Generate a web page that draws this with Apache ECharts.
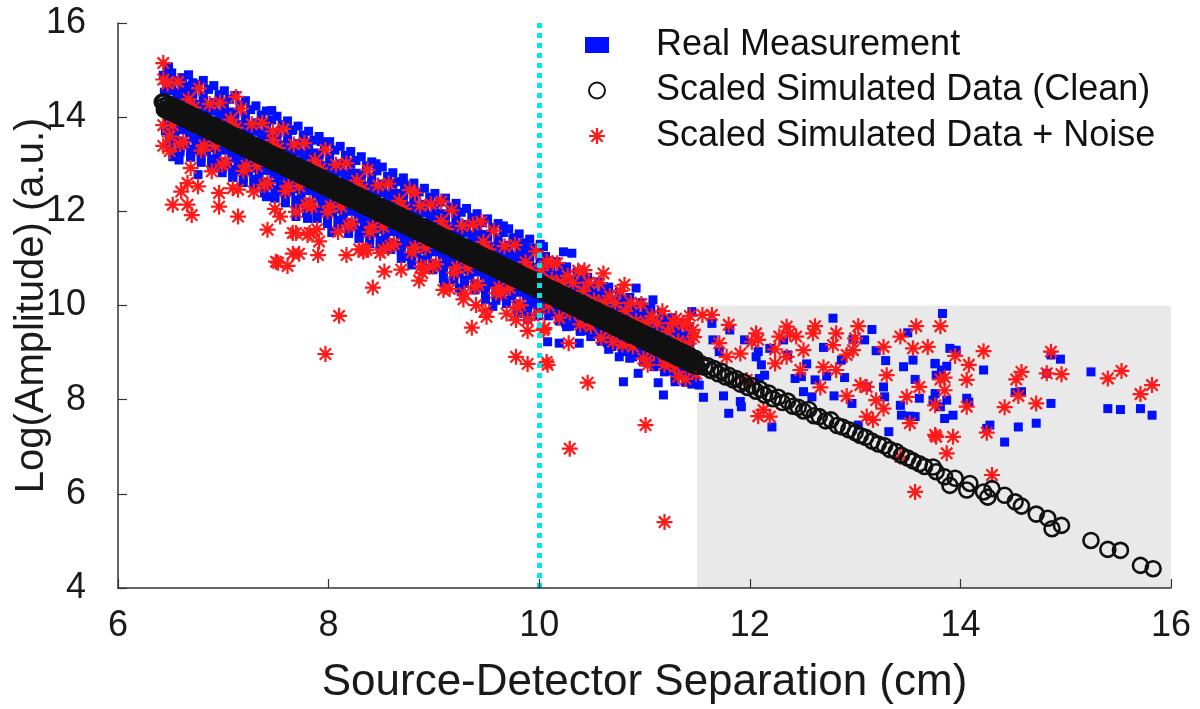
<!DOCTYPE html>
<html><head><meta charset="utf-8">
<script src="https://cdn.jsdelivr.net/npm/echarts@6/dist/echarts.min.js"></script>
<style>html,body{margin:0;padding:0;background:#fff}#c{width:1200px;height:709px}</style>
</head><body><div id="c"></div>
<script>
const xTicks = [6, 8, 10, 12, 14, 16];
const yTicks = [4, 6, 8, 10, 12, 14, 16];
const seriesNames = ['Real Measurement', 'Scaled Simulated Data (Clean)', 'Scaled Simulated Data + Noise'];

// Real Measurement (dense band)
const blueBand = [
[6.43,14.89],[6.46,14.68],[6.44,14.53],[6.48,13.91],[6.45,13.71],[6.49,13.49],
[6.51,14.71],[6.56,14.53],[6.53,14.35],[6.58,13.85],[6.54,13.67],[6.59,13.49],
[6.61,14.74],[6.66,14.54],[6.63,14.36],[6.68,13.66],[6.64,13.44],[6.69,13.16],
[6.71,14.45],[6.76,14.27],[6.73,14.19],[6.78,13.67],[6.74,13.49],[6.79,13.31],
[6.81,14.46],[6.86,14.25],[6.83,14.10],[6.88,13.48],[6.84,13.28],[6.89,13.06],
[6.91,14.27],[6.96,14.09],[6.93,13.91],[6.98,13.41],[6.94,13.23],[6.99,13.05],
[7.01,14.31],[7.06,14.11],[7.03,13.93],[7.08,13.23],[7.04,13.01],[7.09,12.73],
[7.11,14.02],[7.16,13.84],[7.13,13.76],[7.18,13.24],[7.14,13.06],[7.19,12.88],
[7.21,14.03],[7.26,13.82],[7.23,13.67],[7.28,13.05],[7.24,12.85],[7.29,12.63],
[7.31,13.84],[7.36,13.66],[7.33,13.48],[7.38,12.98],[7.34,12.80],[7.39,12.62],
[7.41,13.87],[7.46,13.67],[7.43,13.49],[7.48,12.79],[7.44,12.57],[7.49,12.29],
[7.51,13.59],[7.56,13.41],[7.53,13.33],[7.58,12.81],[7.54,12.63],[7.59,12.45],
[7.61,13.60],[7.66,13.39],[7.63,13.24],[7.68,12.62],[7.64,12.42],[7.69,12.20],
[7.71,13.41],[7.76,13.23],[7.73,13.05],[7.78,12.55],[7.74,12.37],[7.79,12.19],
[7.81,13.44],[7.86,13.24],[7.83,13.06],[7.88,12.36],[7.84,12.14],[7.89,11.86],
[7.91,13.15],[7.96,12.97],[7.93,12.89],[7.98,12.37],[7.94,12.19],[7.99,12.01],
[8.01,13.17],[8.06,12.96],[8.03,12.81],[8.08,12.19],[8.04,11.99],[8.09,11.77],
[8.11,12.98],[8.16,12.80],[8.13,12.62],[8.18,12.12],[8.14,11.94],[8.19,11.76],
[8.21,13.01],[8.26,12.81],[8.23,12.63],[8.28,11.93],[8.24,11.71],[8.29,11.43],
[8.31,12.72],[8.36,12.54],[8.33,12.46],[8.38,11.94],[8.34,11.76],[8.39,11.58],
[8.41,12.73],[8.46,12.52],[8.43,12.37],[8.48,11.75],[8.44,11.55],[8.49,11.33],
[8.51,12.55],[8.56,12.37],[8.53,12.19],[8.58,11.69],[8.54,11.51],[8.59,11.33],
[8.61,12.58],[8.66,12.38],[8.63,12.20],[8.68,11.50],[8.64,11.28],[8.69,11.00],
[8.71,12.29],[8.76,12.11],[8.73,12.03],[8.78,11.51],[8.74,11.33],[8.79,11.15],
[8.81,12.30],[8.86,12.09],[8.83,11.94],[8.88,11.32],[8.84,11.12],[8.89,10.90],
[8.91,12.11],[8.96,11.93],[8.93,11.75],[8.98,11.25],[8.94,11.07],[8.99,10.89],
[9.01,12.15],[9.06,11.95],[9.03,11.77],[9.08,11.07],[9.04,10.85],[9.09,10.57],
[9.11,11.86],[9.16,11.68],[9.13,11.60],[9.18,11.08],[9.14,10.90],[9.19,10.72],
[9.21,11.87],[9.26,11.66],[9.23,11.51],[9.28,10.89],[9.24,10.69],[9.29,10.47],
[9.31,11.68],[9.36,11.50],[9.33,11.32],[9.38,10.82],[9.34,10.64],[9.39,10.46],
[9.41,11.71],[9.46,11.51],[9.43,11.33],[9.48,10.63],[9.44,10.41],[9.49,10.13],
[9.51,11.43],[9.56,11.25],[9.53,11.17],[9.58,10.65],[9.54,10.47],[9.59,10.29],
[9.61,11.44],[9.66,11.23],[9.63,11.08],[9.68,10.46],[9.64,10.26],[9.69,10.04],
[9.71,11.25],[9.76,11.07],[9.73,10.89],[9.78,10.39],[9.74,10.21],[9.79,10.03],
[9.81,11.28],[9.86,11.08],[9.83,10.90],[9.88,10.20],[9.84,9.98],[9.89,9.70],
[9.91,10.99],[9.96,10.81],[9.93,10.73],[9.98,10.21],[9.94,10.03],[9.99,9.85],
[10.01,10.99],[10.06,10.83],[10.03,10.69],[10.08,10.05],[10.05,9.91],
[10.11,10.80],[10.16,10.64],[10.13,10.54],[10.18,9.96],[10.15,9.86],
[10.21,10.83],[10.26,10.65],[10.23,10.49],[10.28,9.79],[10.25,9.63],
[10.31,10.54],[10.36,10.46],[10.33,10.30],[10.38,9.76],[10.35,9.62],
[10.41,10.55],[10.46,10.39],[10.43,10.25],[10.48,9.61],[10.45,9.47],
[10.51,10.37],[10.56,10.21],[10.53,10.11],[10.58,9.53],[10.55,9.43],
[10.61,10.40],[10.66,10.22],[10.63,10.06],[10.68,9.36],[10.65,9.20],
[10.71,10.11],[10.76,10.03],[10.73,9.87],[10.78,9.33],[10.75,9.19],
[10.81,10.12],[10.86,9.96],[10.83,9.82],[10.88,9.18],[10.85,9.04],
[10.91,9.93],[10.96,9.77],[10.93,9.67],[10.98,9.09],[10.95,8.99],
[11.01,9.97],[11.06,9.79],[11.03,9.63],[11.08,8.93],[11.05,8.77],
[11.11,9.68],[11.16,9.60],[11.13,9.44],[11.18,8.90],[11.15,8.76],
[11.21,9.69],[11.26,9.53],[11.23,9.39],[11.28,8.75],[11.25,8.61],
[11.31,9.50],[11.36,9.34],[11.33,9.24],[11.38,8.66],[11.35,8.56],
[11.41,9.53],[11.46,9.35],[11.43,9.19],[11.48,8.49],[11.45,8.33]
];
const blueBand2 = [
[6.51,14.74],[6.48,14.56],[6.52,13.78],[6.49,13.54],[6.61,14.55],[6.58,14.37],[6.62,13.73],[6.59,13.35],
[6.71,14.52],[6.68,14.34],[6.72,13.56],[6.69,13.32],[6.81,14.34],[6.78,14.16],[6.82,13.52],[6.79,13.14],
[6.91,14.31],[6.88,14.13],[6.92,13.35],[6.89,13.11],[7.01,14.12],[6.98,13.94],[7.02,13.30],[6.99,12.92],
[7.11,14.09],[7.08,13.91],[7.12,13.13],[7.09,12.89],[7.21,13.90],[7.18,13.72],[7.22,13.08],[7.19,12.70],
[7.31,13.88],[7.28,13.70],[7.32,12.92],[7.29,12.68],[7.41,13.69],[7.38,13.51],[7.42,12.87],[7.39,12.49],
[7.51,13.66],[7.48,13.48],[7.52,12.70],[7.49,12.46],[7.61,13.47],[7.58,13.29],[7.62,12.65],[7.59,12.27],
[7.71,13.44],[7.68,13.26],[7.72,12.48],[7.69,12.24],[7.81,13.26],[7.78,13.08],[7.82,12.44],[7.79,12.06],
[7.91,13.23],[7.88,13.05],[7.92,12.27],[7.89,12.03],[8.01,13.04],[7.98,12.86],[8.02,12.22],[7.99,11.84],
[8.11,13.01],[8.08,12.83],[8.12,12.05],[8.09,11.81],[8.21,12.82],[8.18,12.64],[8.22,12.00],[8.19,11.62],
[8.31,12.80],[8.28,12.62],[8.32,11.84],[8.29,11.60],[8.41,12.61],[8.38,12.43],[8.42,11.79],[8.39,11.41],
[8.51,12.58],[8.48,12.40],[8.52,11.62],[8.49,11.38],[8.61,12.39],[8.58,12.21],[8.62,11.57],[8.59,11.19],
[8.71,12.36],[8.68,12.18],[8.72,11.40],[8.69,11.16],[8.81,12.18],[8.78,12.00],[8.82,11.36],[8.79,10.98],
[8.91,12.15],[8.88,11.97],[8.92,11.19],[8.89,10.95],[9.01,11.96],[8.98,11.78],[9.02,11.14],[8.99,10.76],
[9.11,11.93],[9.08,11.75],[9.12,10.97],[9.09,10.73],[9.21,11.74],[9.18,11.56],[9.22,10.92],[9.19,10.54],
[9.31,11.72],[9.28,11.54],[9.32,10.76],[9.29,10.52],[9.41,11.53],[9.38,11.35],[9.42,10.71],[9.39,10.33],
[9.51,11.50],[9.48,11.32],[9.52,10.54],[9.49,10.30],[9.61,11.31],[9.58,11.13],[9.62,10.49],[9.59,10.11],
[9.71,11.28],[9.68,11.10],[9.72,10.32],[9.69,10.08],[9.81,11.10],[9.78,10.92],[9.82,10.28],[9.79,9.90],
[9.91,11.07],[9.88,10.89],[9.92,10.11],[9.89,9.87],[10.01,10.94],[9.98,10.78],[10.02,10.04],[9.99,9.92],
[10.11,10.73],[10.08,10.59],[10.12,9.99],[10.09,9.87],[10.21,10.72],[10.18,10.56],[10.22,9.82],[10.19,9.70],
[10.31,10.52],[10.28,10.38],[10.32,9.78],[10.29,9.66],[10.41,10.51],[10.38,10.35],[10.42,9.61],[10.39,9.49],
[10.51,10.30],[10.48,10.16],[10.52,9.56],[10.49,9.44],[10.61,10.29],[10.58,10.13],[10.62,9.39],[10.59,9.27],
[10.71,10.08],[10.68,9.94],[10.72,9.34],[10.69,9.22],[10.81,10.08],[10.78,9.92],[10.82,9.18],[10.79,9.06],
[10.91,9.87],[10.88,9.73],[10.92,9.13],[10.89,9.01],[11.01,9.86],[10.98,9.70],[11.02,8.96],[10.99,8.84],
[11.11,9.65],[11.08,9.51],[11.12,8.91],[11.09,8.79],[11.21,9.64],[11.18,9.48],[11.22,8.74],[11.19,8.62],
[11.31,9.44],[11.28,9.30],[11.32,8.70],[11.29,8.58],[11.41,9.43],[11.38,9.27],[11.42,8.53],[11.39,8.41]
];
const blueEdge = [
[6.46,14.87],[6.51,14.94],[6.49,13.36],[6.53,13.52],[6.56,14.77],[6.61,14.84],[6.59,13.26],
[6.66,14.66],[6.71,14.73],[6.69,13.15],[6.73,13.31],[6.76,14.70],[6.81,14.78],[6.79,13.04],
[6.86,14.59],[6.91,14.67],[6.89,12.93],[6.93,13.09],[6.96,14.48],[7.01,14.56],[6.99,12.82],
[7.06,14.38],[7.11,14.46],[7.09,12.72],[7.13,12.88],[7.16,14.27],[7.21,14.35],[7.19,12.61],
[7.26,14.16],[7.31,14.24],[7.29,12.50],[7.33,12.66],[7.36,14.05],[7.41,14.13],[7.39,12.39],
[7.46,13.94],[7.51,14.02],[7.49,12.28],[7.53,12.44],[7.56,13.84],[7.61,13.92],[7.59,12.18],
[7.66,13.73],[7.71,13.81],[7.69,12.07],[7.73,12.23],[7.76,13.62],[7.81,13.70],[7.79,11.96],
[7.86,13.51],[7.91,13.59],[7.89,11.85],[7.93,12.01],[7.96,13.40],[8.01,13.48],[7.99,11.74],
[8.06,13.30],[8.11,13.38],[8.09,11.64],[8.13,11.80],[8.16,13.19],[8.21,13.27],[8.19,11.53],
[8.26,13.08],[8.31,13.16],[8.29,11.42],[8.33,11.58],[8.36,12.97],[8.41,13.05],[8.39,11.31],
[8.46,12.86],[8.51,12.94],[8.49,11.20],[8.53,11.36],
[8.56,12.74],[8.61,12.82],[8.59,11.30],[8.66,12.63],[8.71,12.71],[8.69,11.19],
[8.76,12.52],[8.81,12.60],[8.79,11.08],[8.86,12.41],[8.91,12.49],[8.89,10.97],
[8.96,12.30],[9.01,12.38],[8.99,10.86],[9.06,12.20],[9.11,12.28],[9.09,10.76],
[9.16,12.09],[9.21,12.17],[9.19,10.65],[9.26,11.98],[9.31,12.06],[9.29,10.54],
[9.36,11.87],[9.41,11.95],[9.39,10.43],[9.46,11.76],[9.51,11.84],[9.49,10.32],
[9.56,11.66],[9.61,11.74],[9.59,10.22],[9.66,11.55],[9.71,11.63],[9.69,10.11],
[9.76,11.44],[9.81,11.52],[9.79,10.00],[9.86,11.33],[9.91,11.41],[9.89,9.89],
[9.96,11.22],[10.01,11.30],[9.99,9.78],
[10.06,11.04],[10.09,9.78],[10.16,10.93],[10.19,9.67],[10.26,10.82],[10.29,9.56],
[10.36,10.71],[10.39,9.45],[10.46,10.60],[10.49,9.34],[10.56,10.50],[10.59,9.24],
[10.66,10.39],[10.69,9.13],[10.76,10.28],[10.79,9.02],[10.86,10.17],[10.89,8.91],
[10.96,10.06],[10.99,8.80],[11.06,9.96],[11.09,8.70],[11.16,9.85],[11.19,8.59],
[11.26,9.74],[11.29,8.48],[11.36,9.63],[11.39,8.37]
];
const blueOutliers = [
[6.48,15.07],[6.67,14.90],[6.96,14.34],[7.46,14.14],[7.65,13.72],[7.93,13.48],[7.69,11.89],[7.80,11.85],
[8.03,11.55],[7.41,12.31],[6.58,13.09],[6.52,13.16],[6.76,12.78],[6.93,12.92],[7.09,12.88],[8.45,13.01],
[8.72,12.56],[9.21,12.00],[9.66,11.69],[9.75,11.43],[9.88,11.22],[9.56,9.98],[9.80,9.83],[10.08,9.23],
[8.71,11.04],[8.79,10.86],[9.24,10.37],[9.10,10.47],[9.26,10.29],[8.55,11.25],[10.04,11.25],[10.23,11.14],
[10.31,11.11],[11.45,9.87],[10.92,10.37],[11.08,10.12],[11.18,8.10],[11.13,8.36],[11.29,8.38],[11.46,8.38],
[10.80,8.38],[10.94,8.56],[10.76,8.91],[10.86,8.88],[10.66,9.07],[10.38,9.20],[10.19,9.20],[10.26,9.55]
];
const blueFar = [
[12.79,9.73],[13.16,9.49],[13.50,9.42],[11.81,9.48],[12.32,9.27],[12.54,8.76],[12.70,9.11],[12.87,8.84],
[12.98,9.28],[13.09,9.27],[13.20,9.04],[13.29,8.83],[13.46,8.70],[13.55,8.84],[13.57,8.43],[13.76,8.76],
[13.77,8.52],[11.71,9.02],[11.95,9.27],[12.08,9.02],[12.11,8.74],[12.14,8.52],[12.19,9.09],[12.36,8.95],
[12.43,8.45],[12.49,8.49],[12.51,8.17],[12.59,8.06],[12.62,8.42],[12.73,8.50],[12.80,8.08],[12.90,8.47],
[12.97,7.92],[13.11,8.27],[13.27,8.27],[13.28,8.06],[13.32,7.32],[13.43,7.88],[13.44,7.67],[13.52,7.65],
[13.57,7.64],[13.61,8.03],[13.74,7.99],[13.03,7.46],[11.56,8.05],[11.75,8.08],[11.80,7.71],[11.91,7.96],
[11.92,7.85],[12.21,7.42],[12.09,8.45],[12.06,8.91],[11.65,9.27],[11.64,9.62],[11.52,8.31],
[13.83,9.83],[13.90,9.09],[13.96,9.05],[13.76,8.77],[13.82,8.63],[13.87,8.71],[13.76,8.13],[13.81,7.85],
[13.85,7.60],[13.93,7.67],[13.87,7.99],[14.06,8.03],[14.08,7.95],[14.22,8.63],[14.28,7.46],[14.25,7.39],
[14.42,7.10],[14.52,8.15],[14.58,8.17],[14.55,7.42],[14.72,7.50],[14.86,7.92],[14.86,8.95],[14.95,8.86],
[14.82,8.56],[15.24,8.59],[15.40,7.81],[15.52,7.79],[15.71,7.81],[15.82,7.67]
];

// Scaled Simulated Data (Clean)
const cleanBand = [
[6.42,14.32],[6.46,14.16],[6.50,14.19],[6.54,14.11],[6.58,14.16],[6.62,14.00],[6.66,14.04],[6.70,13.89],
[6.74,13.97],[6.78,13.82],[6.82,13.84],[6.86,13.76],[6.90,13.82],[6.94,13.66],[6.98,13.69],[7.02,13.55],
[7.06,13.63],[7.10,13.47],[7.14,13.50],[7.18,13.42],[7.22,13.47],[7.26,13.31],[7.30,13.35],[7.34,13.20],
[7.38,13.28],[7.42,13.13],[7.46,13.15],[7.50,13.07],[7.54,13.13],[7.58,12.96],[7.62,13.00],[7.66,12.86],
[7.70,12.93],[7.74,12.78],[7.78,12.81],[7.82,12.72],[7.86,12.78],[7.90,12.62],[7.94,12.66],[7.98,12.51],
[8.02,12.59],[8.06,12.44],[8.10,12.46],[8.14,12.38],[8.18,12.44],[8.22,12.27],[8.26,12.31],[8.30,12.17],
[8.34,12.24],[8.38,12.09],[8.42,12.12],[8.46,12.03],[8.50,12.09],[8.54,11.93],[8.58,11.96],[8.62,11.82],
[8.66,11.90],[8.70,11.74],[8.74,11.77],[8.78,11.69],[8.82,11.74],[8.86,11.58],[8.90,11.62],[8.94,11.48],
[8.98,11.55],[9.02,11.40],[9.06,11.43],[9.10,11.34],[9.14,11.40],[9.18,11.24],[9.22,11.27],[9.26,11.13],
[9.30,11.21],[9.34,11.05],[9.38,11.08],[9.42,11.00],[9.46,11.05],[9.50,10.89],[9.54,10.93],[9.58,10.78],
[9.62,10.86],[9.66,10.71],[9.70,10.73],[9.74,10.65],[9.78,10.71],[9.82,10.54],[9.86,10.58],[9.90,10.44],
[9.94,10.52],[9.98,10.36],[10.02,10.39],[10.06,10.31],[10.10,10.36],[10.14,10.20],[10.18,10.24],[10.22,10.09],
[10.26,10.17],[10.30,10.02],[10.34,10.04],[10.38,9.96],[10.42,10.02],[10.46,9.85],[10.50,9.89],[10.54,9.75],
[10.58,9.82],[10.62,9.67],[10.66,9.70],[10.70,9.61],[10.74,9.67],[10.78,9.51],[10.82,9.54],[10.86,9.40],
[10.90,9.48],[10.94,9.33],[10.98,9.35],[11.02,9.27],[11.06,9.33],[11.10,9.16],[11.14,9.20],[11.18,9.06],
[11.22,9.13],[11.26,8.98],[11.30,9.01],[11.34,8.92],[11.38,8.98],[11.42,8.82],[11.46,8.85],[11.50,8.71]
];
const cleanMidX = [
6.44,6.48,6.52,6.56,6.60,6.64,6.68,6.72,6.76,6.80,6.84,6.88,6.92,6.96,7.00,7.04,
7.08,7.12,7.16,7.20,7.24,7.28,7.32,7.36,7.40,7.44,7.48,7.52,7.56,7.60,7.64,7.68,
7.72,7.76,7.80,7.84,7.88,7.92,7.96,8.00,8.04,8.08,8.12,8.16,8.20,8.24,8.28,8.32,
8.36,8.40,8.44,8.48,8.52,8.56,8.60,8.64,8.68,8.72,8.76,8.80,8.84,8.88,8.92,8.96,
9.00,9.04,9.08,9.12,9.16,9.20,9.24,9.28,9.32,9.36,9.40,9.44,9.48,9.52,9.56,9.60,
9.64,9.68,9.72,9.76,9.80,9.84,9.88,9.92,9.96,10.00,10.04,10.08,10.12,10.16,10.20,10.24,
10.28,10.32,10.36,10.40,10.44,10.48,10.52,10.56,10.60,10.64,10.68,10.72,10.76,10.80,10.84,10.88,
10.92,10.96,11.00,11.04,11.08,11.12,11.16,11.20,11.24,11.28,11.32,11.36,11.40,11.44,11.48
];
const cleanMidY = [
14.24,14.20,14.16,14.12,14.07,14.03,13.99,13.94,13.90,13.86,13.81,13.77,13.73,13.68,13.64,13.60,
13.55,13.51,13.47,13.42,13.38,13.34,13.29,13.25,13.21,13.16,13.12,13.08,13.04,12.99,12.95,12.91,
12.86,12.82,12.78,12.73,12.69,12.65,12.60,12.56,12.52,12.47,12.43,12.39,12.34,12.30,12.26,12.21,
12.17,12.13,12.08,12.04,12.00,11.96,11.91,11.87,11.83,11.78,11.74,11.70,11.65,11.61,11.57,11.52,
11.48,11.44,11.39,11.35,11.31,11.26,11.22,11.18,11.13,11.09,11.05,11.00,10.96,10.92,10.88,10.83,
10.79,10.75,10.70,10.66,10.62,10.57,10.53,10.49,10.44,10.40,10.36,10.31,10.27,10.23,10.18,10.14,
10.10,10.05,10.01,9.97,9.92,9.88,9.84,9.80,9.75,9.71,9.67,9.62,9.58,9.54,9.49,9.45,
9.41,9.36,9.32,9.28,9.23,9.19,9.15,9.10,9.06,9.02,8.97,8.93,8.89,8.84,8.80
];
const cleanUpper = [
[6.44,14.32],[6.48,14.28],[6.52,14.24],[6.56,14.20],[6.60,14.15],[6.64,14.11],[6.68,14.07],[6.72,14.02],
[6.76,13.98],[6.80,13.94],[6.84,13.89],[6.88,13.85],[6.92,13.81],[6.96,13.76],[7.00,13.72],[7.04,13.68],
[7.08,13.63],[7.12,13.59],[7.16,13.55],[7.20,13.50],[7.24,13.46],[7.28,13.42],[7.32,13.37],[7.36,13.33],
[7.40,13.29],[7.44,13.24],[7.48,13.20],[7.52,13.16],[7.56,13.12],[7.60,13.07],[7.64,13.03],[7.68,12.99],
[7.72,12.94],[7.76,12.90],[7.80,12.86],[7.84,12.81],[7.88,12.77],[7.92,12.73],[7.96,12.68],[8.00,12.64],
[8.04,12.60],[8.08,12.55],[8.12,12.51],[8.16,12.47],[8.20,12.42],[8.24,12.38],[8.28,12.34],[8.32,12.29],
[8.36,12.25],[8.40,12.21],[8.44,12.16],[8.48,12.12],[8.52,12.08],[8.56,12.04],[8.60,11.99],[8.64,11.95],
[8.68,11.91],[8.72,11.86],[8.76,11.82],[8.80,11.78],[8.84,11.73],[8.88,11.69],[8.92,11.65],[8.96,11.60],
[9.00,11.56],[9.04,11.52],[9.08,11.47],[9.12,11.43],[9.16,11.39],[9.20,11.34],[9.24,11.30],[9.28,11.26],
[9.32,11.21],[9.36,11.17],[9.40,11.13],[9.44,11.08],[9.48,11.04],[9.52,11.00],[9.56,10.96],[9.60,10.91],
[9.64,10.87],[9.68,10.83],[9.72,10.78],[9.76,10.74],[9.80,10.70],[9.84,10.65],[9.88,10.61],[9.92,10.57],
[9.96,10.52],[10.00,10.48],[10.04,10.44],[10.08,10.39],[10.12,10.35],[10.16,10.31],[10.20,10.26],[10.24,10.22],
[10.28,10.18],[10.32,10.13],[10.36,10.09],[10.40,10.05],[10.44,10.00],[10.48,9.96],[10.52,9.92],[10.56,9.88],
[10.60,9.83],[10.64,9.79],[10.68,9.75],[10.72,9.70],[10.76,9.66],[10.80,9.62],[10.84,9.57],[10.88,9.53],
[10.92,9.49],[10.96,9.44],[11.00,9.40],[11.04,9.36],[11.08,9.31],[11.12,9.27],[11.16,9.23],[11.20,9.18],
[11.24,9.14],[11.28,9.10],[11.32,9.05],[11.36,9.01],[11.40,8.97],[11.44,8.92],[11.48,8.88]
];
const cleanLower = [
[6.44,14.16],[6.48,14.12],[6.52,14.08],[6.56,14.04],[6.60,13.99],[6.64,13.95],[6.68,13.91],[6.72,13.86],
[6.76,13.82],[6.80,13.78],[6.84,13.73],[6.88,13.69],[6.92,13.65],[6.96,13.60],[7.00,13.56],[7.04,13.52],
[7.08,13.47],[7.12,13.43],[7.16,13.39],[7.20,13.34],[7.24,13.30],[7.28,13.26],[7.32,13.21],[7.36,13.17],
[7.40,13.13],[7.44,13.08],[7.48,13.04],[7.52,13.00],[7.56,12.96],[7.60,12.91],[7.64,12.87],[7.68,12.83],
[7.72,12.78],[7.76,12.74],[7.80,12.70],[7.84,12.65],[7.88,12.61],[7.92,12.57],[7.96,12.52],[8.00,12.48],
[8.04,12.44],[8.08,12.39],[8.12,12.35],[8.16,12.31],[8.20,12.26],[8.24,12.22],[8.28,12.18],[8.32,12.13],
[8.36,12.09],[8.40,12.05],[8.44,12.00],[8.48,11.96],[8.52,11.92],[8.56,11.88],[8.60,11.83],[8.64,11.79],
[8.68,11.75],[8.72,11.70],[8.76,11.66],[8.80,11.62],[8.84,11.57],[8.88,11.53],[8.92,11.49],[8.96,11.44],
[9.00,11.40],[9.04,11.36],[9.08,11.31],[9.12,11.27],[9.16,11.23],[9.20,11.18],[9.24,11.14],[9.28,11.10],
[9.32,11.05],[9.36,11.01],[9.40,10.97],[9.44,10.92],[9.48,10.88],[9.52,10.84],[9.56,10.80],[9.60,10.75],
[9.64,10.71],[9.68,10.67],[9.72,10.62],[9.76,10.58],[9.80,10.54],[9.84,10.49],[9.88,10.45],[9.92,10.41],
[9.96,10.36],[10.00,10.32],[10.04,10.28],[10.08,10.23],[10.12,10.19],[10.16,10.15],[10.20,10.10],[10.24,10.06],
[10.28,10.02],[10.32,9.97],[10.36,9.93],[10.40,9.89],[10.44,9.84],[10.48,9.80],[10.52,9.76],[10.56,9.72],
[10.60,9.67],[10.64,9.63],[10.68,9.59],[10.72,9.54],[10.76,9.50],[10.80,9.46],[10.84,9.41],[10.88,9.37],
[10.92,9.33],[10.96,9.28],[11.00,9.24],[11.04,9.20],[11.08,9.15],[11.12,9.11],[11.16,9.07],[11.20,9.02],
[11.24,8.98],[11.28,8.94],[11.32,8.89],[11.36,8.85],[11.40,8.81],[11.44,8.76],[11.48,8.72]
];
const cleanFar = [
[11.54,8.76],[11.57,8.69],[11.60,8.72],[11.63,8.62],[11.66,8.66],[11.70,8.55],[11.73,8.60],[11.77,8.48],
[11.80,8.52],[11.84,8.42],[11.87,8.45],[11.91,8.33],[11.94,8.38],[11.98,8.26],[12.02,8.30],[12.06,8.18],
[12.10,8.22],[12.14,8.10],[12.18,8.14],[12.22,8.02],[12.27,8.05],[12.31,7.94],[12.36,7.97],[12.41,7.86],
[12.46,7.84],[12.51,7.76],[12.56,7.79],[12.61,7.66],[12.66,7.64],[12.72,7.55],[12.77,7.57],[12.83,7.45],
[12.88,7.42],[12.94,7.36],[13.00,7.30],[13.05,7.24],[13.10,7.20],[13.16,7.12],[13.22,7.06],[13.28,7.02],
[13.33,6.94],[13.39,6.90],[13.44,6.82],[13.50,6.76],[13.55,6.70],[13.61,6.64],[13.66,6.58],
[13.74,6.57],[13.77,6.47],[13.85,6.36],[13.90,6.18],[13.95,6.33],[14.06,6.08],[14.09,6.22],[14.22,6.04],
[14.26,5.93],[14.30,6.11],[14.42,5.97],[14.52,5.83],[14.58,5.74],[14.72,5.57],[14.83,5.48],[14.87,5.26],
[14.96,5.33],[15.24,5.01],[15.40,4.82],[15.52,4.80],[15.71,4.48],[15.83,4.41]
];

// Scaled Simulated Data + Noise
const redBand = [
[6.47,14.71],[6.43,13.83],[6.49,13.28],[6.57,14.75],[6.52,13.83],[6.59,13.43],
[6.67,14.38],[6.62,13.47],[6.69,12.92],[6.77,14.61],[6.72,14.21],[6.79,13.29],
[6.87,14.28],[6.82,13.40],[6.89,12.85],[6.97,14.31],[6.92,13.39],[6.99,12.99],
[7.07,13.95],[7.02,13.04],[7.09,12.49],[7.17,14.18],[7.12,13.78],[7.19,12.86],
[7.27,13.85],[7.22,12.97],[7.29,12.42],[7.37,13.88],[7.32,12.96],[7.39,12.56],
[7.47,13.51],[7.42,12.60],[7.49,12.05],[7.57,13.75],[7.52,13.35],[7.59,12.43],
[7.67,13.42],[7.62,12.54],[7.69,11.99],[7.77,13.45],[7.72,12.53],[7.79,12.13],
[7.87,13.08],[7.82,12.17],[7.89,11.62],[7.97,13.31],[7.92,12.91],[7.99,11.99],
[8.07,12.99],[8.02,12.11],[8.09,11.56],[8.17,13.02],[8.12,12.10],[8.19,11.70],
[8.27,12.65],[8.22,11.74],[8.29,11.19],[8.37,12.88],[8.32,12.48],[8.39,11.56],
[8.47,12.55],[8.42,11.67],[8.49,11.12],[8.57,12.59],[8.52,11.67],[8.59,11.27],
[8.67,12.22],[8.62,11.31],[8.69,10.76],[8.77,12.45],[8.72,12.05],[8.79,11.13],
[8.87,12.12],[8.82,11.24],[8.89,10.69],[8.97,12.15],[8.92,11.23],[8.99,10.83],
[9.07,11.79],[9.02,10.88],[9.09,10.33],[9.17,12.02],[9.12,11.62],[9.19,10.70],
[9.27,11.69],[9.22,10.81],[9.29,10.26],[9.37,11.72],[9.32,10.80],[9.39,10.40],
[9.47,11.35],[9.42,10.44],[9.49,9.89],[9.57,11.59],[9.52,11.19],[9.59,10.27],
[9.67,11.26],[9.62,10.38],[9.69,9.83],[9.77,11.29],[9.72,10.37],[9.79,9.97],
[9.87,10.92],[9.82,10.01],[9.89,9.46],[9.97,11.15],[9.92,10.75],[9.99,9.83],
[10.07,10.93],[10.02,10.75],[10.09,10.00],[10.17,10.90],[10.12,10.54],[10.19,9.74],
[10.27,10.63],[10.22,10.49],[10.29,9.85],[10.37,10.74],[10.32,10.48],[10.39,9.60],
[10.47,10.49],[10.42,10.31],[10.49,9.56],[10.57,10.47],[10.52,10.11],[10.59,9.31],
[10.67,10.20],[10.62,10.06],[10.69,9.42],[10.77,10.31],[10.72,10.05],[10.79,9.17],
[10.87,10.06],[10.82,9.88],[10.89,9.13],[10.97,10.03],[10.92,9.67],[10.99,8.87],
[11.07,9.77],[11.02,9.63],[11.09,8.99],[11.17,9.88],[11.12,9.62],[11.19,8.74],
[11.27,9.63],[11.22,9.45],[11.29,8.70],[11.37,9.60],[11.32,9.24],[11.39,8.44],
[11.47,9.33],[11.42,9.19],[11.49,8.55],[11.40,9.62],[11.46,9.48],[11.30,9.72],[11.43,9.78]
];
const redOutliers = [
[8.10,9.78],[7.97,8.97],[8.42,10.38],[8.53,10.72],[7.52,10.91],[7.61,10.84],[7.66,11.10],[7.72,11.10],
[7.90,11.07],[8.17,11.07],[8.33,11.14],[8.86,10.53],[8.91,10.79],[9.36,9.53],[9.50,9.76],[9.40,10.01],
[9.28,10.13],[9.15,10.35],[9.78,8.91],[9.89,8.76],[9.78,9.69],[9.89,9.69],[10.04,9.48],[10.07,8.80],
[10.29,6.96],[11.01,7.46],[11.19,5.40],[10.46,8.36],[10.05,9.52],[10.28,9.20],[10.70,9.23],[11.03,8.74],
[11.21,8.81],[11.32,8.49],[10.61,10.68],[10.81,10.44],[10.13,10.90],[9.07,12.21],[8.82,12.39],[8.52,11.18],
[8.33,11.18],[8.88,10.83],[9.64,10.26],[10.08,8.74],[6.52,12.14],[6.66,12.14],[6.70,11.92],[6.60,12.42],
[6.76,12.53],[6.66,12.60],[6.96,12.10],[6.96,12.39],[7.14,11.89],[7.14,12.46],[7.42,11.61],[7.50,10.93],
[7.66,11.54],[7.54,11.89],[7.80,11.50],[7.91,11.36],[8.36,11.18],[7.84,12.10],[6.43,15.15],[7.12,14.43],
[6.43,13.39],[6.49,13.59],[6.43,14.80],[7.69,11.54],[7.82,11.54],[7.47,13.70],[9.45,11.78],[10.43,10.75]
];
const redFar = [
[11.55,9.80],[11.64,9.80],[11.80,9.59],[12.06,9.41],[12.35,9.55],[12.44,9.34],[12.60,9.41],[12.62,9.56],
[12.51,9.05],[12.79,9.16],[13.03,9.56],[13.00,9.30],[13.27,9.12],[13.43,9.34],[13.58,9.56],[13.55,9.09],
[13.69,9.12],[12.08,9.27],[12.24,9.07],[12.35,8.91],[12.48,8.63],[12.70,8.69],[12.82,8.63],[12.92,8.95],
[12.98,9.05],[13.30,8.52],[13.05,8.31],[13.11,8.27],[12.92,8.08],[13.20,7.99],[13.27,7.81],[13.11,7.64],
[13.17,7.57],[13.49,8.06],[13.52,7.50],[13.61,8.27],[13.76,7.25],[13.57,6.04],[13.43,6.79],[12.67,8.26],
[12.08,7.65],[12.13,7.78],[12.19,7.64],[12.24,8.77],[11.97,8.42],[12.02,9.23],[11.71,9.20],[11.78,8.91],
[11.91,8.98],[12.28,9.34],[12.38,9.41],[12.82,9.41],
[13.81,9.56],[14.22,9.03],[14.08,8.74],[14.06,8.42],[13.95,8.93],[13.85,8.47],[13.81,8.43],[13.85,8.20],
[13.76,7.88],[14.06,7.85],[13.77,7.21],[13.93,7.21],[13.87,6.86],[14.25,7.30],[14.30,6.40],[14.42,7.84],
[14.53,8.43],[14.58,8.59],[14.55,8.08],[14.72,7.92],[14.86,9.02],[14.82,8.56],[14.96,8.54],[15.40,8.45],
[15.53,8.61],[15.71,8.12],[15.82,8.31]
];

const cleanMid = cleanMidX.map((x, i) => [x, cleanMidY[i]]);
const starPath = 'path://M0,8.6L20,8.6L20,11.4L0,11.4Z M8.6,0L11.4,0L11.4,20L8.6,20Z M1.9,3.9L3.9,1.9L18.1,16.1L16.1,18.1Z M16.1,1.9L18.1,3.9L3.9,18.1L1.9,16.1Z';
const FONT = 'Liberation Sans, Arial, sans-serif';

const chart = echarts.init(document.getElementById('c'), null, {renderer: 'canvas'});
chart.setOption({
  animation: false,
  backgroundColor: '#ffffff',
  grid: {left: 118, right: 29, top: 23, bottom: 121, outerBoundsMode: 'none', containLabel: false},
  legend: {
    data: seriesNames,
    orient: 'vertical',
    left: 580, top: 22,
    itemWidth: 24, itemHeight: 16, itemGap: 9.5,
    textStyle: {fontFamily: FONT, fontSize: 36, color: '#111', lineHeight: 36, padding: [0, 0, 0, 42]}
  },
  xAxis: {
    type: 'value', min: 6, max: 16, interval: 2, z: 6,
    axisLine: {show: true, onZero: false, lineStyle: {color: '#333', width: 1.5}},
    axisTick: {show: true, inside: true, length: 9, lineStyle: {color: '#333', width: 1.2}},
    splitLine: {show: false},
    axisLabel: {fontFamily: FONT, fontSize: 36, color: '#1a1a1a', margin: 20},
    name: 'Source-Detector Separation (cm)', nameLocation: 'middle', nameGap: 73, nameMoveOverlap: false,
    nameTextStyle: {fontFamily: FONT, fontSize: 44, color: '#1a1a1a'}
  },
  yAxis: {
    type: 'value', min: 4, max: 16, interval: 2, z: 6,
    axisLine: {show: true, onZero: false, lineStyle: {color: '#333', width: 1.5}},
    axisTick: {show: true, inside: true, length: 9, lineStyle: {color: '#333', width: 1.2}},
    splitLine: {show: false},
    axisLabel: {fontFamily: FONT, fontSize: 36, color: '#1a1a1a', margin: 32},
    name: 'Log(Amplitude) (a.u.)', nameLocation: 'middle', nameGap: 66, nameMoveOverlap: false,
    nameTextStyle: {fontFamily: FONT, fontSize: 40, color: '#1a1a1a'}
  },
  series: [
    {
      name: 'bg', type: 'scatter', data: [], silent: true,
      markArea: {silent: true, itemStyle: {color: '#e9e9e9'},
        data: [[{xAxis: 11.5, yAxis: 4}, {xAxis: 16, yAxis: 10}]]},
      markLine: {silent: true, symbol: ['none', 'none'], label: {show: false},
        lineStyle: {color: '#00e6ee', width: 5, type: [5, 5]},
        data: [{xAxis: 10}]}
    },
    {
      name: seriesNames[0], type: 'scatter', z: 2,
      symbol: 'rect', symbolSize: 9,
      itemStyle: {color: '#0010ff', opacity: 1},
      data: blueBand.concat(blueBand2, blueEdge, blueOutliers, blueFar)
    },
    {
      name: seriesNames[2], type: 'scatter', z: 3,
      symbol: starPath, symbolSize: 16,
      itemStyle: {color: '#ff1a1a', opacity: 1},
      data: redBand.concat(redOutliers, redFar)
    },
    {
      name: seriesNames[1], type: 'scatter', z: 4,
      symbol: 'circle', symbolSize: 15,
      itemStyle: {color: 'rgba(0,0,0,0)', borderColor: '#111', borderWidth: 2.6, opacity: 1},
      data: cleanBand.concat(cleanMid, cleanUpper, cleanLower, cleanFar)
    }
  ]
});
</script></body></html>
